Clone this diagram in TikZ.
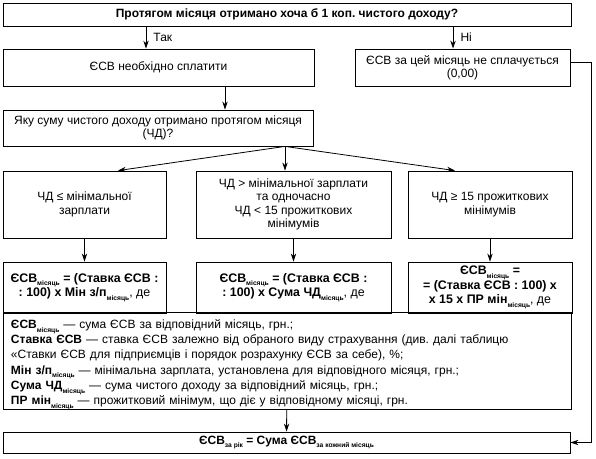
\documentclass[tikz,border=0pt]{standalone}
\usepackage{fontspec}
\setmainfont{Liberation Sans}
\usetikzlibrary{arrows.meta,positioning,calc}
\newcommand{\idx}[1]{\raisebox{-0.6ex}{\fontsize{5}{6}\selectfont #1}}
\frenchspacing

\begin{document}
\begin{tikzpicture}[x=0.75pt,y=-0.75pt,
      every node/.style={font=\fontsize{9}{10}\selectfont},
      box/.style={draw,line width=0.6pt,align=center,inner sep=2pt},
      formula/.style={box,font=\fontsize{9.3}{11}\selectfont},
      arr/.style={-{Stealth[length=6pt,width=4pt]},line width=0.6pt},
      lnk/.style={line width=0.6pt}]
      \useasboundingbox (0,0) rectangle (596,458);
      % question and the two answers
      \node[box,font=\fontsize{9}{10}\selectfont\bfseries,minimum width=426pt,minimum height=17.25pt] (top) at (287,14.5)
        {Протягом місяця отримано хоча б 1 коп. чистого доходу?};
      \node[box,minimum width=233.25pt,minimum height=27.75pt] (yes) at (158.5,67.5) {ЄСВ необхідно сплатити};
      \node[box,minimum width=161.25pt,minimum height=27.75pt] (no) at (462.5,67.5) {ЄСВ за цей місяць не сплачується\\(0,00)};
      \node[box,minimum width=232.5pt,minimum height=27pt] (ask) at (158,128) {Яку суму чистого доходу отримано протягом місяця\\(ЧД)?};
      % three cases
      \node[box,minimum width=122.25pt,minimum height=50.25pt] (low) at (84.5,204.5) {ЧД ≤ мінімальної\\зарплати};
      \node[box,minimum width=146.25pt,minimum height=50.25pt] (mid) at (293.5,204.5)
        {ЧД > мінімальної зарплати\\та одночасно\\ЧД < 15 прожиткових\\мінімумів};
      \node[box,minimum width=123pt,minimum height=50.25pt] (high) at (490,204.5) {ЧД ≥ 15 прожиткових\\мінімумів};
      % formulas
      \node[formula,minimum width=122.25pt,minimum height=38.25pt] (flow) at (84.5,287.5)
        {\textbf{ЄСВ\idx{місяць} = (Ставка ЄСВ :}\\\textbf{: 100) х Мін з/п\idx{місяць}}, де};
      \node[formula,minimum width=146.25pt,minimum height=38.25pt] (fmid) at (293.5,287.5)
        {\textbf{ЄСВ\idx{місяць} = (Ставка ЄСВ :}\\\textbf{: 100) х Сума ЧД\idx{місяць}}, де};
      \node[formula,minimum width=123pt,minimum height=38.25pt] (fhigh) at (490,287.5)
        {\textbf{ЄСВ\idx{місяць} =}\\\textbf{= (Ставка ЄСВ : 100) х}\\\textbf{х 15 х ПР мін\idx{місяць}}, де};
      \node[box,align=left,text width=414pt,inner xsep=6pt,inner ysep=0pt,minimum height=72pt,
        font=\fontsize{9}{11.4}\selectfont] (legend) at (287,361)
        {\rule{0pt}{12pt}\textbf{ЄСВ\idx{місяць}} — сума ЄСВ за відповідний місяць, грн.;\\
         \textbf{Ставка ЄСВ} — ставка ЄСВ залежно від обраного виду страхування (див. далі таблицю\\
         «Ставки ЄСВ для підприємців і порядок розрахунку ЄСВ за себе), \%;\\
         \textbf{Мін з/п\idx{місяць}} — мінімальна зарплата, установлена для відповідного місяця, грн.;\\
         \textbf{Сума ЧД\idx{місяць}} — сума чистого доходу за відповідний місяць, грн.;\\
         \textbf{ПР мін\idx{місяць}} — прожитковий мінімум, що діє у відповідному місяці, грн.};
      \node[box,font=\fontsize{9}{10}\selectfont\bfseries,minimum width=425.25pt,minimum height=15.75pt] (total) at (286.5,442.5)
        {ЄСВ\idx{за рік} = Сума ЄСВ\idx{за кожний місяць}};
      \coordinate (fan) at ([xshift=95.25pt]ask.south);
      % connectors
      \draw[arr] ([xshift=-9.4pt]yes.north |- top.south) -- ([xshift=-9.4pt]yes.north)
        node[midway,right,xshift=2pt] {Так};
      \draw[arr] ([xshift=-7.1pt]no.north |- top.south) -- ([xshift=-7.1pt]no.north)
        node[midway,right,xshift=2pt] {Ні};
      \draw[arr] ([xshift=50.25pt]ask.north |- yes.south) -- ([xshift=50.25pt]ask.north);
      \draw[arr] (fan) -- ([xshift=25.1pt]low.north);
      \draw[arr] (fan) -- (fan |- mid.north);
      \draw[arr] (fan) -- ([xshift=-26.25pt]high.north);
      \draw[arr] (low) -- (flow);
      \draw[arr] (mid) -- (fmid);
      \draw[arr] (high) -- (fhigh);
      \draw[arr] (legend) -- (total);
      \draw[arr] ([yshift=4.1pt]no.east) -- ++(21,0) |- (total.east);
    \end{tikzpicture}
\end{document}
